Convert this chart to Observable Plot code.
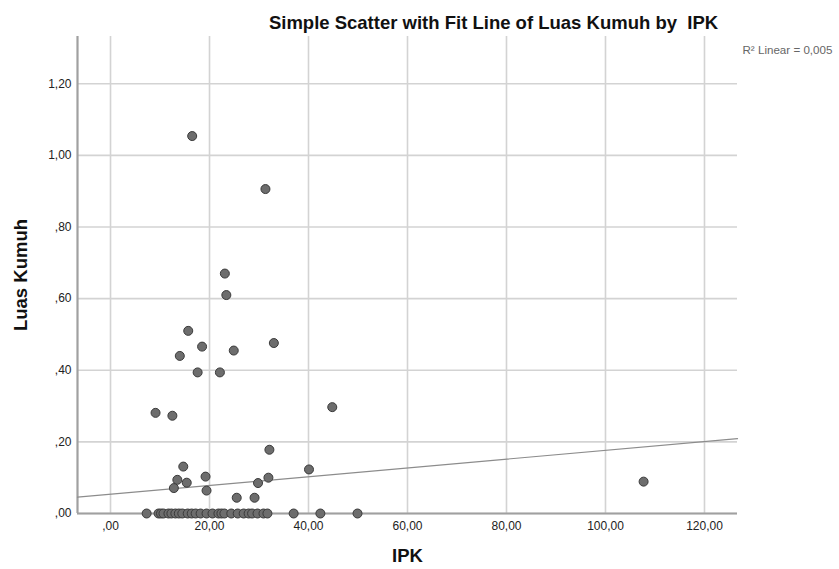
<!DOCTYPE html>
<html>
<head>
<meta charset="utf-8">
<script src="https://cdn.jsdelivr.net/npm/d3@7"></script>
<script src="https://cdn.jsdelivr.net/npm/@observablehq/plot@0.6"></script>
<style>
  html, body { margin: 0; padding: 0; background: #fff; }
  #chart svg { display: block; }
</style>
</head>
<body>
<div id="chart"></div>
<script>
// Scatter points (IPK, Luas Kumuh)
const ipk = [
  16.5, 31.3, 23.1, 23.4, 15.7, 18.5, 14.0, 24.9, 33.0, 17.6, 22.1,
  9.1, 12.5, 44.8, 32.1, 14.7, 13.5, 15.4, 19.2, 12.8, 19.4, 29.8, 31.9, 40.1, 25.5, 29.1,
  107.7,
  7.3, 9.7, 10.2, 10.7, 11.7, 12.3, 13.1, 13.8, 14.5, 15.6, 16.4, 17.2, 18.2, 19.4, 20.6,
  21.8, 22.4, 23.0, 24.4, 25.7, 26.9, 27.9, 28.6, 29.7, 30.9, 31.7, 37.0, 42.4, 49.9
];
const luasKumuh = [
  1.054, 0.906, 0.670, 0.610, 0.510, 0.466, 0.440, 0.455, 0.476, 0.394, 0.394,
  0.281, 0.273, 0.297, 0.178, 0.131, 0.094, 0.086, 0.103, 0.071, 0.064, 0.085, 0.100, 0.123, 0.044, 0.044,
  0.089,
  0, 0, 0, 0, 0, 0, 0, 0, 0, 0, 0, 0, 0, 0, 0,
  0, 0, 0, 0, 0, 0, 0, 0, 0, 0, 0, 0, 0, 0
];
// Fit line read at the plot's left and right edges
const fitX = [-6.67, 126.67];
const fitY = [0.0455, 0.209];

const xTicks = [0, 20, 40, 60, 80, 100, 120];
const xTickLabels = [",00", "20,00", "40,00", "60,00", "80,00", "100,00", "120,00"];
const yTicks = [0, 0.2, 0.4, 0.6, 0.8, 1.0, 1.2];
const yTickLabels = [",00", ",20", ",40", ",60", ",80", "1,00", "1,20"];

const titleText = "Simple Scatter with Fit Line of Luas Kumuh by  IPK";
const r2Text = "R\u00B2 Linear = 0,005";
const xLabel = "IPK";
const yLabel = "Luas Kumuh";

const points = ipk.map((x, i) => ({x, y: luasKumuh[i]}));
const fit = fitX.map((x, i) => ({x, y: fitY[i]}));

const xDomain = [-6.67, 126.67];
const yDomain = [0, 1.332];

const chart = Plot.plot({
  width: 839,
  height: 569,
  marginLeft: 77,
  marginRight: 102,
  marginTop: 36,
  marginBottom: 56,
  style: {fontFamily: "'Liberation Sans', Arial, sans-serif", fontSize: "12px", color: "#222", background: "#fff"},
  x: {domain: xDomain, label: null},
  y: {domain: yDomain, label: null},
  marks: [
    Plot.gridX(xTicks, {stroke: "#d3d3d3", strokeOpacity: 1, strokeWidth: 1.6}),
    Plot.gridY(yTicks, {stroke: "#d3d3d3", strokeOpacity: 1, strokeWidth: 1.6}),
    Plot.ruleX([xDomain[0]], {stroke: "#a0a0a0", strokeWidth: 2.2}),
    Plot.ruleY([0], {stroke: "#a0a0a0", strokeWidth: 2.2}),
    Plot.line(fit, {x: "x", y: "y", stroke: "#8c8c8c", strokeWidth: 1.2}),
    Plot.dot(points, {x: "x", y: "y", r: 4.5, fill: "#6d6d6d", stroke: "#3a3a3a", strokeWidth: 1}),
    Plot.axisX(xTicks, {tickSize: 0, tickPadding: 8, tickFormat: (d, i) => xTickLabels[i], fontSize: 12, fill: "#222", label: null}),
    Plot.axisY(yTicks, {tickSize: 0, tickPadding: 6, tickFormat: (d, i) => yTickLabels[i], fontSize: 12, fill: "#222", label: null}),
    Plot.text([titleText], {frameAnchor: "top", dx: 86, dy: -21, fontSize: 18.5, fontWeight: "bold", fill: "#111"}),
    Plot.text([r2Text], {frameAnchor: "top-right", textAnchor: "start", dx: 5, dy: 9, fontSize: 11.6, fill: "#666"}),
    Plot.text([xLabel], {frameAnchor: "bottom", textAnchor: "middle", dy: 48, fontSize: 18.5, fontWeight: "bold", fill: "#111"}),
    Plot.text([yLabel], {frameAnchor: "left", textAnchor: "middle", dx: -56, rotate: -90, fontSize: 18.5, fontWeight: "bold", fill: "#111"})
  ]
});
document.getElementById("chart").append(chart);
</script>
</body>
</html>
